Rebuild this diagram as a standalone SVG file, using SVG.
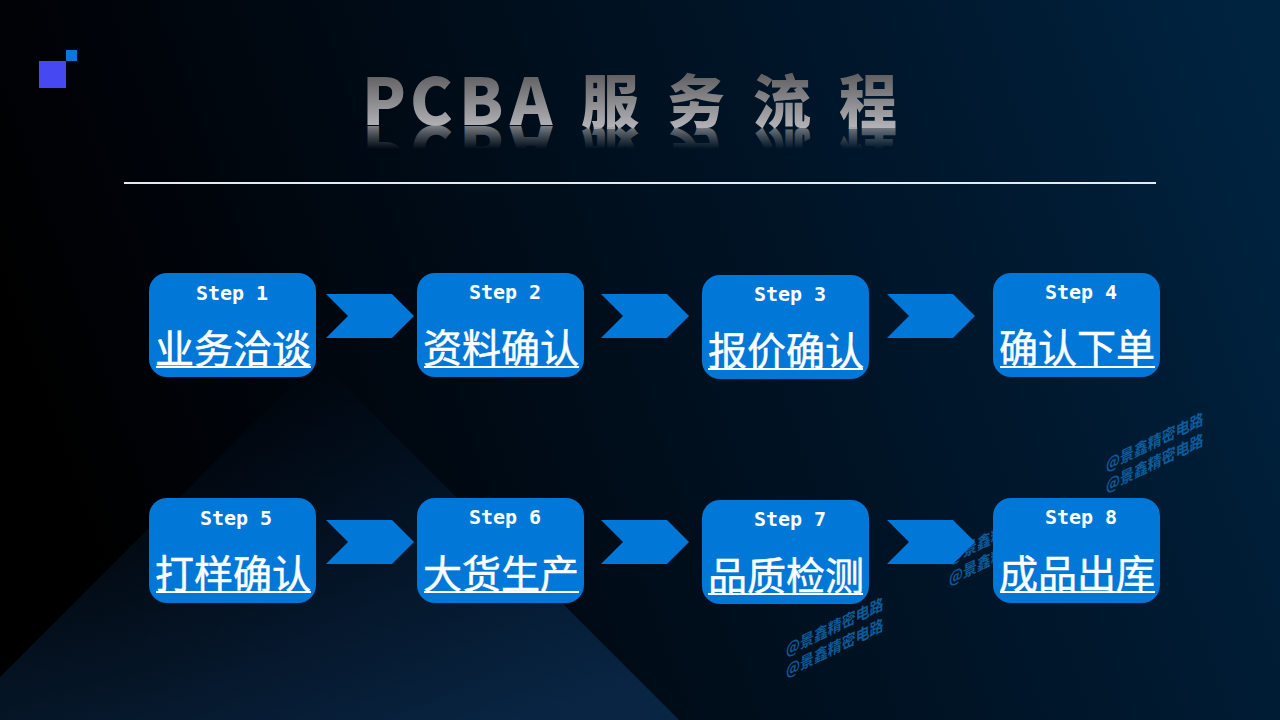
<svg xmlns="http://www.w3.org/2000/svg" width="1280" height="720" viewBox="0 0 1280 720">
<defs>
<linearGradient id="bg" x1="0" y1="0.4" x2="1" y2="0.2"><stop offset="0" stop-color="#000000"/><stop offset="0.12" stop-color="#000308"/><stop offset="0.5" stop-color="#00101f"/><stop offset="0.8" stop-color="#001a31"/><stop offset="1" stop-color="#002340"/></linearGradient>
<linearGradient id="tri" x1="0.3" y1="0.1" x2="0.75" y2="1"><stop offset="0" stop-color="#0a2a50" stop-opacity="0"/><stop offset="1" stop-color="#0c3056" stop-opacity="0.7"/></linearGradient>
<linearGradient id="ttl" gradientUnits="userSpaceOnUse" x1="0" y1="74" x2="0" y2="128"><stop offset="0" stop-color="#5f5f62"/><stop offset="1" stop-color="#b4b4b8"/></linearGradient>
<linearGradient id="ref" gradientUnits="userSpaceOnUse" x1="0" y1="-149" x2="0" y2="-125"><stop offset="0" stop-color="#8a8a8e" stop-opacity="0"/><stop offset="1" stop-color="#a0a0a4" stop-opacity="0.8"/></linearGradient>
<g id="wm"><text class="wm" transform="matrix(0.87 -0.42 0 1 0 0)" x="0" y="0">@景鑫精密电路</text><text class="wm" transform="matrix(0.87 -0.42 0 1 0 21)" x="0" y="0">@景鑫精密电路</text></g>
<polygon id="chev" points="0,0 66,0 88,22 66,44 0,44 22,22"/>
</defs>
<style>
.box{fill:#0177d7}
.arrow{fill:#0177d7}
.st{font:bold 20px "DejaVu Sans Mono","Liberation Mono","Noto Sans CJK SC",monospace;fill:#fff;text-anchor:middle}
.lb{font:400 39px "Noto Sans CJK SC",sans-serif;fill:#fff;stroke:#fff;stroke-width:.5;text-anchor:middle}
.ul{fill:#fff}
.wm{font:bold 16px "Noto Sans CJK SC",sans-serif;fill:#1272bd;fill-opacity:.75}
.tl{font:900 64px "Noto Sans CJK SC",sans-serif}
.tc{font:900 58px "Noto Sans CJK SC",sans-serif}
</style>
<rect width="1280" height="720" fill="url(#bg)"/>
<polygon points="318,359 679,720 0,720 0,677" fill="url(#tri)"/>
<g id="logo"><rect x="39" y="61" width="27" height="27" fill="#4649f2"/><rect x="66" y="50" width="11" height="11" fill="#0a78d8"/></g>
<g id="title">
<text class="tl" x="362 410 459 510" y="125" fill="url(#ttl)">PCBA</text>
<text class="tc" x="581 667 753 839" y="123" fill="url(#ttl)">服务流程</text>
<text class="tl" transform="scale(1,-1)" x="362 410 459 510" y="-126" fill="url(#ref)">PCBA</text>
<text class="tc" transform="scale(1,-1)" x="581 667 753 839" y="-133" fill="url(#ref)">服务流程</text>
</g>
<rect id="rule" x="124" y="182" width="1032" height="2" fill="#e6e9ee"/>
<g id="watermarks">
<use href="#wm" x="786" y="656"/>
<use href="#wm" x="949" y="564"/>
<use href="#wm" x="1106" y="471"/>
</g>
<g id="connectors" class="arrow">
<use href="#chev" x="326" y="294"/><use href="#chev" x="601" y="294"/><use href="#chev" x="887" y="294"/>
<use href="#chev" x="326" y="520"/><use href="#chev" x="601" y="520"/><use href="#chev" x="887" y="520"/>
</g>
<g id="n1"><rect class="box" x="149" y="273" width="167" height="104" rx="18"/><text class="st" x="232" y="300">Step 1</text><text class="lb" x="233" y="363">业务洽谈</text><rect class="ul" x="156" y="366" width="155" height="2"/></g>
<g id="n2"><rect class="box" x="417" y="273" width="167" height="104" rx="18"/><text class="st" x="505" y="299">Step 2</text><text class="lb" x="501" y="362">资料确认</text><rect class="ul" x="424" y="366" width="155" height="2"/></g>
<g id="n3"><rect class="box" x="702" y="275" width="167" height="104" rx="18"/><text class="st" x="790" y="301">Step 3</text><text class="lb" x="786" y="365">报价确认</text><rect class="ul" x="708" y="368" width="155" height="2"/></g>
<g id="n4"><rect class="box" x="993" y="273" width="167" height="104" rx="18"/><text class="st" x="1081" y="299">Step 4</text><text class="lb" x="1077" y="362">确认下单</text><rect class="ul" x="1000" y="366" width="155" height="2"/></g>
<g id="n5"><rect class="box" x="149" y="498" width="167" height="105" rx="18"/><text class="st" x="236" y="525">Step 5</text><text class="lb" x="233" y="588">打样确认</text><rect class="ul" x="156" y="591" width="155" height="2"/></g>
<g id="n6"><rect class="box" x="417" y="498" width="167" height="105" rx="18"/><text class="st" x="505" y="524">Step 6</text><text class="lb" x="501" y="588">大货生产</text><rect class="ul" x="424" y="591" width="155" height="2"/></g>
<g id="n7"><rect class="box" x="702" y="500" width="167" height="104" rx="18"/><text class="st" x="790" y="526">Step 7</text><text class="lb" x="786" y="590">品质检测</text><rect class="ul" x="708" y="593" width="155" height="2"/></g>
<g id="n8"><rect class="box" x="993" y="498" width="167" height="105" rx="18"/><text class="st" x="1081" y="524">Step 8</text><text class="lb" x="1077" y="588">成品出库</text><rect class="ul" x="1000" y="591" width="155" height="2"/></g>
</svg>
